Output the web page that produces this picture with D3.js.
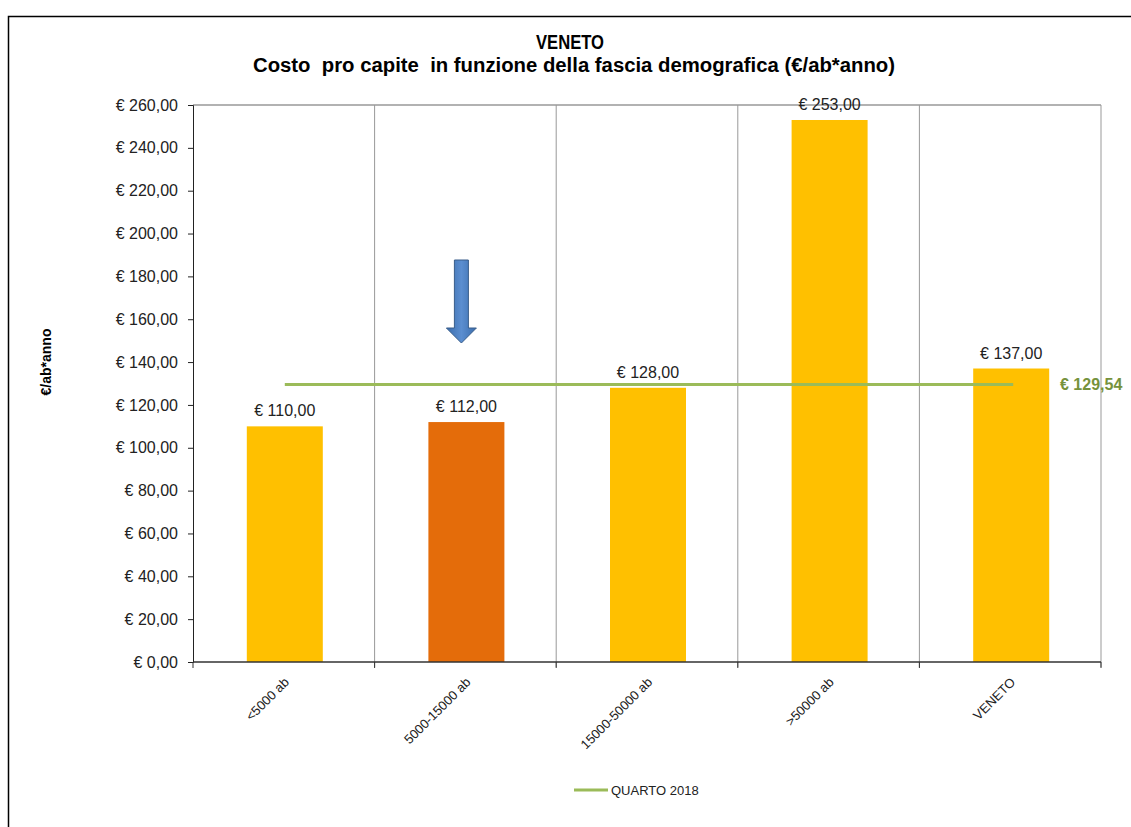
<!DOCTYPE html>
<html><head><meta charset="utf-8">
<script src="https://cdn.jsdelivr.net/npm/d3@7"></script>
<style>body{margin:0;background:#fff}svg{font-family:"Liberation Sans",Arial,sans-serif}</style>
</head><body>
<svg id="c" width="1131" height="827"></svg>
<script>
const categories = ["<5000 ab","5000-15000 ab","15000-50000 ab",">50000 ab","VENETO"];
const costValues = [110,112,128,253,137];
const highlight = [false,true,false,false,false];
const quartoValue = 129.54;
const yTicks = [0,20,40,60,80,100,120,140,160,180,200,220,240,260];
const titleLines = ["VENETO","Costo  pro capite  in funzione della fascia demografica (€/ab*anno)"];
const legendLabel = "QUARTO 2018";
const yLabel = "€/ab*anno";

const svg = d3.select("#c");
const L=193, R=1101, T=105, B=662;
const fmt = v => "€ " + d3.format(",.2f")(v).replace(/,/g,"X").replace(".",",").replace(/X/g,".");

svg.append("rect").attr("x",8.5).attr("y",16.5).attr("width",1140).attr("height",830)
  .attr("fill","none").attr("stroke","#000").attr("stroke-width",1.5);

const x = d3.scaleBand().domain(categories).range([L,R]).paddingInner(0).paddingOuter(0);
const y = d3.scaleLinear().domain([0,260]).range([B,T]);

// gridlines (vertical) and plot border
const g = svg.append("g");
categories.forEach((c,i)=>{
  const xx = x(c)+x.bandwidth();
  g.append("line").attr("x1",xx).attr("x2",xx).attr("y1",T).attr("y2",B+5).attr("stroke","#999").attr("stroke-width",1);
});
g.append("line").attr("x1",L).attr("x2",R).attr("y1",T).attr("y2",T).attr("stroke","#999").attr("stroke-width",1.5);

// bars
const bw = 76;
svg.selectAll(".bar").data(categories).enter().append("rect")
  .attr("x",d=>x(d)+x.bandwidth()/2-bw/2+1).attr("width",bw)
  .attr("y",(d,i)=>y(costValues[i])).attr("height",(d,i)=>B-y(costValues[i]))
  .attr("fill",(d,i)=>highlight[i]?"#E46C0A":"#FFC000");

// value labels
svg.selectAll(".vl").data(categories).enter().append("text")
  .attr("x",d=>x(d)+x.bandwidth()/2+1).attr("y",(d,i)=>y(costValues[i])-10)
  .attr("text-anchor","middle").attr("font-size",16).attr("fill","#222")
  .text((d,i)=>fmt(costValues[i]));

// y axis
const ya = svg.append("g").attr("transform",`translate(${L},0)`)
  .call(d3.axisLeft(y).tickValues(yTicks).tickFormat(fmt).tickSize(5).tickPadding(10));
ya.select(".domain").attr("stroke","#222");
ya.selectAll("line").attr("stroke","#222");
ya.selectAll("text").attr("font-size",16).attr("fill","#222").attr("font-family","Liberation Sans, Arial, sans-serif");

// x axis
const xa = svg.append("g").attr("transform",`translate(0,${B})`);
xa.append("line").attr("x1",L).attr("x2",R).attr("y1",0).attr("y2",0).attr("stroke","#333").attr("stroke-width",1.5);
[L,...categories.map(c=>x(c)+x.bandwidth())].forEach(xx=>{
  xa.append("line").attr("x1",xx).attr("x2",xx).attr("y1",0).attr("y2",6).attr("stroke","#333");
});
xa.selectAll(".xl").data(categories).enter().append("text")
  .attr("transform",d=>`translate(${x(d)+x.bandwidth()/2+6},${21}) rotate(-45)`)
  .attr("text-anchor","end").attr("font-size",13).attr("fill","#222").text(d=>d);

// quarto line
const x1 = x(categories[0])+x.bandwidth()/2+1, x2 = x(categories[4])+x.bandwidth()/2+3;
svg.append("line").attr("x1",x1).attr("x2",x2).attr("y1",y(quartoValue)).attr("y2",y(quartoValue))
  .attr("stroke","#9BBB59").attr("stroke-width",3);
svg.append("text").attr("x",1060).attr("y",y(quartoValue)+6).attr("font-size",16).attr("font-weight","bold")
  .attr("fill","#76923C").text(fmt(quartoValue));

// arrow
const defs = svg.append("defs");
const gr = defs.append("linearGradient").attr("id","ag").attr("x1","0").attr("x2","1");
gr.append("stop").attr("offset","0").attr("stop-color","#3A6CAB");
gr.append("stop").attr("offset","0.5").attr("stop-color","#5B8ED0");
gr.append("stop").attr("offset","1").attr("stop-color","#3A6CAB");
const ax = x(categories[1])+x.bandwidth()/2-4;
svg.append("path").attr("d",`M${ax-7},260 L${ax+7},260 L${ax+7},328 L${ax+15},328 L${ax},343 L${ax-15},328 L${ax-7},328 Z`)
  .attr("fill","url(#ag)").attr("stroke","#385D8A").attr("stroke-width",1);

// titles
svg.append("text").attr("x",570).attr("y",49).attr("text-anchor","middle").attr("font-size",20).attr("font-weight","bold")
  .attr("textLength",68).attr("lengthAdjust","spacingAndGlyphs").text(titleLines[0]);
svg.append("text").attr("x",574).attr("y",72).attr("text-anchor","middle").attr("font-size",20).attr("font-weight","bold")
  .attr("textLength",642).attr("lengthAdjust","spacingAndGlyphs").style("white-space","pre").text(titleLines[1]);

// y label
svg.append("text").attr("transform","translate(51,362) rotate(-90)").attr("text-anchor","middle")
  .attr("font-size",14).attr("font-weight","bold").text(yLabel);

// legend
svg.append("line").attr("x1",574).attr("x2",608).attr("y1",790).attr("y2",790).attr("stroke","#9BBB59").attr("stroke-width",3);
svg.append("text").attr("x",611).attr("y",795).attr("font-size",13).attr("fill","#222").text(legendLabel);
</script>
</body></html>
